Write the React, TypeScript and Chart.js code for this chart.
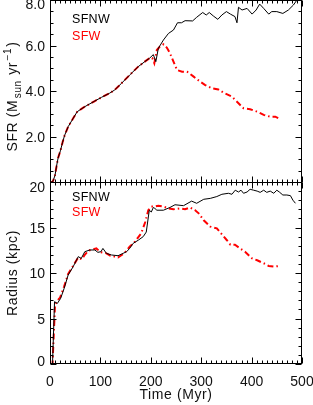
import { useEffect, useRef } from "react";
import { Chart, registerables } from "chart.js";

Chart.register(...registerables);

// ---- data ----
const sfnwSfrTime = [0, 5, 7, 10, 13, 16, 21, 25, 29, 36, 46, 54, 69, 89, 102, 118, 128, 142, 158, 175, 188, 198, 205, 210, 215, 225, 235, 245, 253, 261, 268, 283, 291, 303, 310, 316, 324, 333, 341, 350, 358, 367, 371, 374, 381, 391, 401, 409, 416, 424, 434, 440, 450, 462, 473, 483, 490];
const sfnwSfr = [0, 0, 0.1, 0.3, 0.7, 1.05, 1.4, 1.75, 2.05, 2.43, 2.8, 3.09, 3.31, 3.56, 3.72, 3.9, 4.04, 4.34, 4.7, 5.07, 5.29, 5.45, 5.6, 5.29, 5.88, 6.24, 6.53, 6.68, 7.0, 7.0, 7.09, 7.08, 7.24, 7.45, 7.34, 7.45, 7.3, 7.15, 7.34, 7.49, 7.38, 7.27, 7.0, 7.68, 7.56, 7.63, 7.38, 7.56, 7.82, 7.63, 7.38, 7.49, 7.49, 7.41, 7.56, 7.78, 8.0];

const sfwSfrTime = [0, 5, 7, 10, 13, 16, 21, 25, 29, 36, 46, 54, 69, 89, 102, 118, 128, 142, 158, 175, 188, 198, 203, 207, 212, 218, 225, 232, 238, 245, 252, 262, 272, 285, 298, 308, 321, 334, 344, 361, 371, 384, 397, 411, 424, 437, 447, 457];
const sfwSfr = [0, 0, 0.1, 0.3, 0.7, 1.05, 1.4, 1.75, 2.05, 2.43, 2.8, 3.09, 3.31, 3.56, 3.72, 3.9, 4.04, 4.34, 4.7, 5.07, 5.29, 5.45, 5.45, 5.22, 5.8, 5.95, 6.05, 5.9, 5.66, 5.29, 4.92, 4.85, 4.85, 4.63, 4.41, 4.26, 4.12, 4.07, 3.93, 3.75, 3.53, 3.24, 3.2, 3.09, 2.95, 2.87, 2.87, 2.76];

const sfnwRadTime = [0, 5, 9, 14.6, 21, 28, 36, 46, 56, 62, 69, 79, 89, 95, 101, 105, 112, 122, 135, 145, 152, 158, 165, 175, 185, 191, 197, 201, 205, 208, 212, 225, 238, 248, 265, 281, 291, 305, 318, 331, 341, 354, 361, 367.5, 374, 379, 384, 391, 397, 404, 411, 417, 424, 430, 437, 444, 450, 455, 462, 470, 477, 482, 487];
const sfnwRad = [0, 0, 6.85, 6.66, 7.2, 8.3, 9.78, 10.7, 11.8, 11.6, 12.34, 12.53, 12.53, 12.27, 12.34, 12.7, 12.16, 11.98, 11.9, 12.16, 12.34, 12.7, 13.26, 13.6, 14.0, 14.5, 16.9, 16.7, 17.2, 17.1, 16.9, 16.9, 17.2, 17.5, 17.4, 17.9, 17.66, 18.1, 18.2, 18.4, 18.65, 18.76, 18.65, 19.1, 18.9, 19.1, 18.76, 18.9, 19.2, 19.1, 19.0, 18.86, 19.1, 18.86, 19.0, 18.76, 19.1, 18.9, 18.57, 18.57, 18.5, 18.0, 17.66];

const sfwRadTime = [0, 5, 10, 15, 20, 28, 36, 46, 56, 63, 69, 76, 84, 92, 100, 112, 120, 128, 135, 148, 158, 168, 181, 189, 195, 201, 208, 215, 225, 235, 245, 258, 268, 278, 288, 295, 305, 318, 331, 341, 351, 358, 367, 377, 387, 401, 411, 424, 434, 444, 455];
const sfwRad = [0, 0, 6.5, 7.0, 7.3, 8.5, 9.9, 10.8, 11.7, 11.5, 12.0, 12.45, 12.6, 12.7, 12.3, 12.16, 11.9, 11.8, 11.7, 12.2, 12.9, 13.4, 14.36, 15.6, 16.9, 17.3, 17.3, 17.4, 17.3, 17.1, 17.0, 17.1, 17.0, 17.2, 16.9, 16.56, 15.8, 15.1, 14.9, 14.25, 13.6, 13.1, 13.1, 12.7, 12.34, 11.6, 11.4, 11.07, 10.77, 10.7, 10.77];

const timeTicks = [0, 100, 200, 300, 400, 500];
const sfrTicks = [2, 4, 6, 8];
const sfrTickLabels = ["2.0", "4.0", "6.0", "8.0"];
const radTicks = [0, 5, 10, 15, 20];
const radTickLabels = ["0", "5", "10", "15", "20"];
const seriesNames = ["SFNW", "SFW"];

const FONT = '"Liberation Sans", Arial, sans-serif';

function pts(t: number[], v: number[]) {
  return t.map((x, i) => ({ x, y: v[i] }));
}

const framePlugin = {
  id: "idlFrame",
  afterDraw(chart: any) {
    const { ctx, chartArea: a, scales } = chart;
    const xs = scales.x;
    const ys = scales.ys;
    const yr = scales.yr;
    const mid = Math.round(ys.getPixelForValue(0));
    const L = a.left + 0.5;
    const R = a.right - 0.5;
    const T = a.top + 0.5;
    const B = a.bottom - 0.5;
    const M = mid + 0.5;
    ctx.save();
    ctx.strokeStyle = "#000";
    ctx.lineWidth = 1;
    const seg = (x1: number, y1: number, x2: number, y2: number) => {
      ctx.beginPath();
      ctx.moveTo(x1, y1);
      ctx.lineTo(x2, y2);
      ctx.stroke();
    };
    ctx.strokeRect(L, T, R - L, B - T);
    seg(L, M, R, M);

    // x ticks (major every 100, minor every 10)
    for (let t = 0; t <= 500; t += 10) {
      const px = Math.round(xs.getPixelForValue(t)) + 0.5;
      const len = t % 100 === 0 ? 6 : 3;
      seg(px, T, px, T + len);
      seg(px, M, px, M - len);
      seg(px, M, px, M + len);
      seg(px, B, px, B - len);
    }
    // SFR ticks
    for (let v = 0; v <= 8.001; v += 0.5) {
      const py = Math.round(ys.getPixelForValue(v)) + 0.5;
      const len = Math.abs(v % 2) < 1e-6 ? 6 : 3;
      seg(L, py, L + len, py);
      seg(R, py, R - len, py);
    }
    // Radius ticks
    for (let r = 0; r <= 20; r += 1) {
      const py = Math.round(yr.getPixelForValue(r)) + 0.5;
      const len = r % 5 === 0 ? 6 : 3;
      seg(L, py, L + len, py);
      seg(R, py, R - len, py);
    }

    // tick labels
    ctx.fillStyle = "#111";
    ctx.font = `14px ${FONT}`;
    ctx.textBaseline = "alphabetic";
    const capOff = 14 * 0.36;
    ctx.textAlign = "right";
    sfrTicks.forEach((v, i) => {
      let py = ys.getPixelForValue(v);
      py = Math.max(py, a.top + 3.5);
      ctx.fillText(sfrTickLabels[i], a.left - 5, py + capOff);
    });
    radTicks.forEach((v, i) => {
      let py = yr.getPixelForValue(v);
      py = Math.min(Math.max(py, mid + 5), a.bottom - 3.5);
      ctx.fillText(radTickLabels[i], a.left - 5, py + capOff);
    });
    ctx.textAlign = "center";
    timeTicks.forEach((t) => {
      const px = xs.getPixelForValue(t);
      ctx.fillText(String(t), px, a.bottom + 17 + capOff);
    });

    // x title
    (ctx as any).letterSpacing = "0.6px";
    ctx.fillText("Time (Myr)", (a.left + a.right) / 2, 394 + capOff);

    // Radius title (rotated)
    ctx.save();
    ctx.translate(12, (mid + a.bottom) / 2);
    ctx.rotate(-Math.PI / 2);
    ctx.textAlign = "center";
    ctx.fillText("Radius (kpc)", 0, capOff);
    ctx.restore();

    // SFR title (rotated, with sub/superscript)
    ctx.save();
    ctx.translate(12, 96.5);
    ctx.rotate(-Math.PI / 2);
    ctx.textAlign = "left";
    const parts: [string, number, number][] = [
      ["SFR (M", 14, 0],
      ["sun", 10, 4],
      [" yr", 14, 0],
      ["\u22121", 10, -6],
      [")", 14, 0],
    ];
    const gaps = [0, 1.5, 1, 1.5, 1];
    let total = 0;
    parts.forEach(([s, sz], i) => {
      ctx.font = `${sz}px ${FONT}`;
      total += ctx.measureText(s).width + gaps[i];
    });
    let cx = -total / 2;
    parts.forEach(([s, sz, dy], i) => {
      ctx.font = `${sz}px ${FONT}`;
      cx += gaps[i];
      ctx.fillText(s, cx, capOff + dy);
      cx += ctx.measureText(s).width;
    });
    ctx.restore();

    // legends
    (ctx as any).letterSpacing = "0.3px";
    ctx.font = `12.5px ${FONT}`;
    ctx.textAlign = "left";
    const lOff = 12.5 * 0.36;
    const colors = ["#000", "#ff0000"];
    const topY = [18, 35];
    const botY = [mid + 14, mid + 29.5];
    seriesNames.forEach((n, i) => {
      ctx.fillStyle = colors[i];
      ctx.fillText(n, 72, a.top + topY[i] + lOff);
      ctx.fillText(n, 72, botY[i] + lOff);
    });
    ctx.restore();
  },
};

export default function App() {
  const ref = useRef<HTMLCanvasElement | null>(null);
  useEffect(() => {
    document.body.style.margin = "0";
    const canvas = ref.current!;
    const redDash = [6, 3, 1.5, 3];
    const chart = new Chart(canvas, {
      type: "line",
      data: {
        datasets: [
          { label: seriesNames[0], data: pts(sfnwSfrTime, sfnwSfr), yAxisID: "ys", borderColor: "#000", borderWidth: 1, pointRadius: 0, tension: 0, fill: false },
          { label: seriesNames[0], data: pts(sfnwRadTime, sfnwRad), yAxisID: "yr", borderColor: "#000", borderWidth: 1, pointRadius: 0, tension: 0, fill: false },
          { label: seriesNames[1], data: pts(sfwSfrTime, sfwSfr), yAxisID: "ys", borderColor: "#ff0000", borderWidth: 2, borderDash: redDash, pointRadius: 0, tension: 0, fill: false },
          { label: seriesNames[1], data: pts(sfwRadTime, sfwRad), yAxisID: "yr", borderColor: "#ff0000", borderWidth: 2, borderDash: redDash, pointRadius: 0, tension: 0, fill: false },
        ],
      } as any,
      options: {
        animation: false,
        responsive: false,
        maintainAspectRatio: false,
        devicePixelRatio: 1,
        events: [],
        layout: { padding: { left: 50, right: 11, top: 0, bottom: 41 } },
        plugins: { legend: { display: false }, tooltip: { enabled: false } },
        scales: {
          x: { type: "linear", min: 0, max: 500, display: false },
          ys: { type: "linear", min: -8, max: 8, display: false },
          yr: { type: "linear", min: 0, max: 40, display: false },
        },
      } as any,
      plugins: [framePlugin],
    });
    return () => chart.destroy();
  }, []);
  return (
    <div style={{ position: "absolute", left: 0, top: 0, width: 313, height: 405, background: "#fff" }}>
      <canvas ref={ref} width={313} height={405} style={{ display: "block", width: 313, height: 405 }} />
    </div>
  );
}
